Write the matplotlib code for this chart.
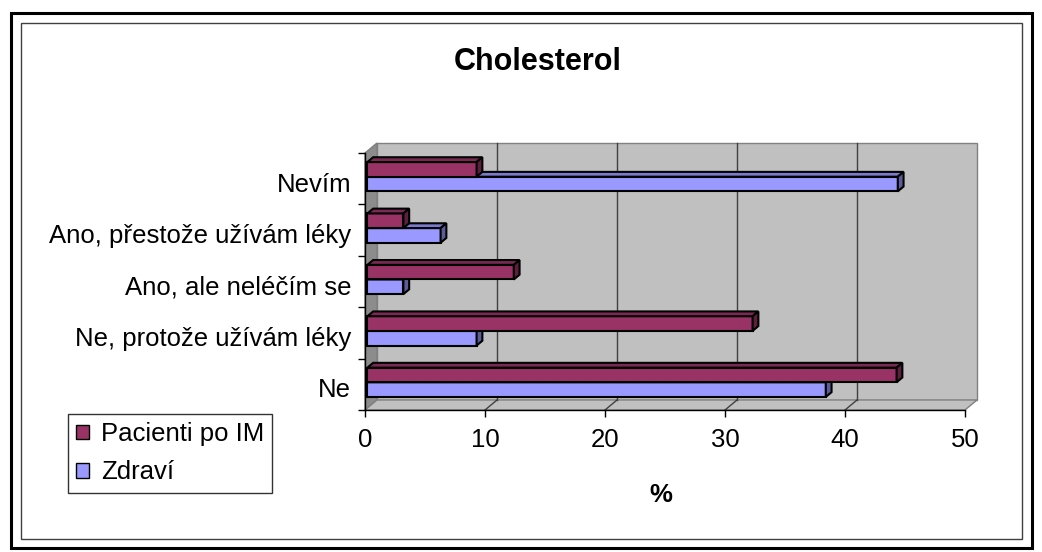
import matplotlib
matplotlib.use('Agg')
import matplotlib.pyplot as plt
from matplotlib.patches import Polygon, Rectangle, Patch

plt.rcParams['font.family'] = ['Liberation Sans', 'DejaVu Sans']

# data
categories = ['Ne', 'Ne, protože užívám léky', 'Ano, ale neléčím se',
              'Ano, přestože užívám léky', 'Nevím']
series_names = ['Pacienti po IM', 'Zdraví']
pacienti = [44.1, 32.1, 12.2, 3.0, 9.1]
zdravi = [38.2, 9.1, 3.0, 6.1, 44.2]
x_ticks = [0, 10, 20, 30, 40, 50]

# colours: front, top, side
COL_P = ('#993366', '#7a2952', '#5c1f3d')
COL_Z = ('#9999ff', '#7a7acc', '#5c5c99')

# 3D look: depth offset of the back wall in data units
DX = 1.0
DY = 0.195
F0, F1 = 0.2, 0.68   # bar front/back position within the depth
BAR_H = 0.285
LW = 1.5

fig = plt.figure(figsize=(10.42, 5.52), dpi=100)
ax = fig.add_axes([365 / 1042, 1 - 410 / 552, 600 / 1042, 257 / 552])
ax.set_xlim(0, 50)
ax.set_ylim(0, len(categories))

n = len(categories)
xmax = x_ticks[-1]

# walls and floor
back = Polygon([(DX, DY), (xmax + DX, DY), (xmax + DX, n + DY), (DX, n + DY)],
               facecolor='#c0c0c0', edgecolor='#808080', lw=1, zorder=0.5, clip_on=False)
left = Polygon([(0, 0), (DX, DY), (DX, n + DY), (0, n)],
               facecolor='#8c8c8c', edgecolor='#808080', lw=1, zorder=0.6, clip_on=False)
floor = Polygon([(0, 0), (xmax, 0), (xmax + DX, DY), (DX, DY)],
                facecolor='#c0c0c0', edgecolor='#808080', lw=1, zorder=0.6, clip_on=False)
for p in (back, left, floor):
    ax.add_patch(p)

for t in x_ticks[1:-1]:
    ax.plot([t + DX, t + DX], [DY, n + DY], color='#404040', lw=1, zorder=1, clip_on=False)
    ax.plot([t, t + DX], [0, DY], color='#404040', lw=1, zorder=1, clip_on=False)


def draw_bar(i, v, lower, cols, z):
    x0 = F0 * DX
    yb = i + 0.5 + F0 * DY - (BAR_H if lower else 0)
    yt = yb + BAR_H
    ddx = (F1 - F0) * DX
    ddy = (F1 - F0) * DY
    ax.barh(yb + BAR_H / 2, v, height=BAR_H, left=x0, color=cols[0],
            edgecolor='black', lw=LW, zorder=z, clip_on=False)
    top = Polygon([(x0, yt), (x0 + v, yt), (x0 + v + ddx, yt + ddy), (x0 + ddx, yt + ddy)],
                  facecolor=cols[1], edgecolor='black', lw=LW, zorder=z + 0.1,
                  clip_on=False, joinstyle='miter')
    side = Polygon([(x0 + v, yb), (x0 + v + ddx, yb + ddy), (x0 + v + ddx, yt + ddy), (x0 + v, yt)],
                   facecolor=cols[2], edgecolor='black', lw=LW, zorder=z + 0.2,
                   clip_on=False, joinstyle='miter')
    ax.add_patch(top)
    ax.add_patch(side)


for i in range(n):
    draw_bar(i, zdravi[i], True, COL_Z, 2 + i)
    draw_bar(i, pacienti[i], False, COL_P, 2.5 + i)

# axes
for s in ('top', 'right'):
    ax.spines[s].set_visible(False)
for s in ('bottom', 'left'):
    ax.spines[s].set_zorder(20)
    ax.spines[s].set_linewidth(1)

ax.set_xticks(x_ticks)
ax.set_xticklabels([str(t) for t in x_ticks], fontsize=18.5)
ax.tick_params(axis='x', direction='out', length=5, width=1, pad=8)

ax.set_yticks(range(n + 1))
ax.set_yticklabels([''] * (n + 1))
ax.set_yticks([i + 0.43 for i in range(n)], minor=True)
ax.set_yticklabels(categories, minor=True, fontsize=18.5)
ax.tick_params(axis='y', which='major', direction='out', length=5, width=1)
ax.tick_params(axis='y', which='minor', length=0, pad=10)

ax.set_xlabel('%', fontsize=18.5, fontweight='bold')
ax.xaxis.set_label_coords(0.493, -0.285)
ax.set_facecolor('none')

fig.text(538 / 1042, 1 - 62 / 552, 'Cholesterol', fontsize=22, fontweight='bold',
         ha='center', va='center')

handles = [Patch(facecolor=COL_P[0], edgecolor='black', lw=1),
           Patch(facecolor=COL_Z[0], edgecolor='black', lw=1)]
leg = fig.legend(handles, series_names, loc='upper left',
                 bbox_to_anchor=(68 / 1042, 1 - 414 / 552), fontsize=18.5,
                 frameon=True, fancybox=False, borderaxespad=0,
                 handlelength=0.5, handleheight=0.5, handletextpad=0.45,
                 labelspacing=0.55, borderpad=0.32)
leg.get_frame().set_edgecolor('black')
leg.get_frame().set_linewidth(1)

# chart frames
fig.patches.append(Rectangle((11 / 1042, 1 - 548 / 552), 1021 / 1042, 535 / 552,
                             transform=fig.transFigure, fill=False, edgecolor='black', lw=2.2))
fig.patches.append(Rectangle((20.5 / 1042, 1 - 539 / 552), 1001 / 1042, 516 / 552,
                             transform=fig.transFigure, fill=False, edgecolor='#404040', lw=1))

fig.savefig('out.png', dpi=100)
